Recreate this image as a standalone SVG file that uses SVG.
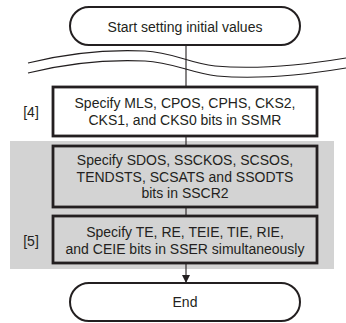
<svg xmlns="http://www.w3.org/2000/svg" width="346" height="323" viewBox="0 0 346 323">
<defs>
<style>
text{font-family:"Liberation Sans",Arial,sans-serif;font-size:14px;fill:#231f20;text-anchor:middle}
.term{fill:#fff;stroke:#231f20;stroke-width:2}
.box{stroke:#231f20;stroke-width:2.8}
.wh{fill:#fff}
.gr{fill:#d3d3d3}
.ln{fill:none;stroke:#231f20;stroke-width:1.1}
</style>
<marker id="ah" markerWidth="8" markerHeight="10" refX="8" refY="4" orient="auto" markerUnits="userSpaceOnUse">
<path d="M0,0 L8,4 L0,8 Z" fill="#231f20"/>
</marker>
</defs>
<rect x="10" y="141" width="324" height="128" fill="#d3d3d3"/>
<g id="connectors">
<line class="ln" x1="186" y1="45" x2="186" y2="87"/>
<path class="ln" d="M28,63 C60,55 100,49 145,51 C172,52 188,63 215,66 C260,70 310,64 346,58"/>
<path class="ln" d="M28,73 C60,65 100,59 145,61 C172,62 190,73 217,76 C262,80 310,74 346,68"/>
<line class="ln" x1="186" y1="136" x2="186" y2="146"/>
<line class="ln" x1="186" y1="207" x2="186" y2="216"/>
<line class="ln" x1="186" y1="263" x2="186" y2="283" marker-end="url(#ah)"/>
</g>
<g id="start">
<rect class="term" x="70" y="7" width="230" height="38" rx="19" ry="19"/>
<text x="185" y="32">Start setting initial values</text>
</g>
<g id="step4">
<rect class="box wh" x="53" y="87" width="264" height="49"/>
<text x="185" y="108">Specify MLS, CPOS, CPHS, CKS2,</text>
<text x="185" y="124.5">CKS1, and CKS0 bits in SSMR</text>
</g>
<g id="label4"><text x="31" y="117">[4]</text></g>
<g id="sscr2">
<rect class="box gr" x="53" y="146" width="264" height="61"/>
<text x="185" y="165">Specify SDOS, SSCKOS, SCSOS,</text>
<text x="185" y="181.5">TENDSTS, SCSATS and SSODTS</text>
<text x="185" y="198">bits in SSCR2</text>
</g>
<g id="step5">
<rect class="box gr" x="53" y="216" width="264" height="47"/>
<text x="185" y="237">Specify TE, RE, TEIE, TIE, RIE,</text>
<text x="185" y="253.5">and CEIE bits in SSER simultaneously</text>
</g>
<g id="label5"><text x="31" y="246">[5]</text></g>
<g id="end">
<rect class="term" x="70" y="283" width="230" height="38" rx="19" ry="19"/>
<text x="185" y="307">End</text>
</g>
</svg>
